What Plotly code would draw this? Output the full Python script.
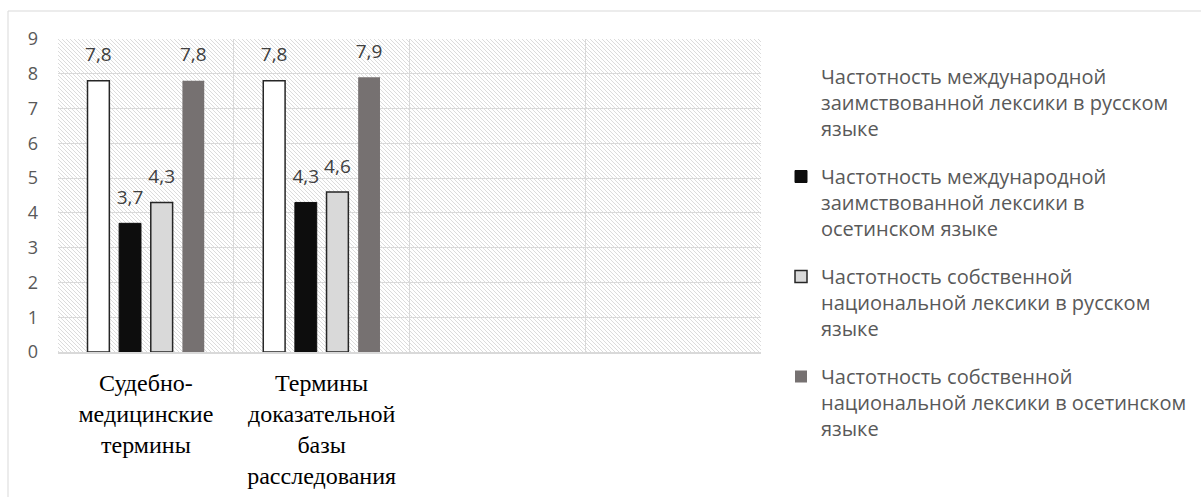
import base64
import plotly.graph_objects as go

# ---- data ----
categories = [
    "Судебно-<br>медицинские<br>термины",
    "Термины<br>доказательной<br>базы<br>расследования",
    " ",
    "  ",
]
series_names = [
    "Частотность международной<br>заимствованной лексики в русском<br>языке",
    "Частотность международной<br>заимствованной лексики в<br>осетинском языке",
    "Частотность собственной<br>национальной лексики в русском<br>языке",
    "Частотность собственной<br>национальной лексики в осетинском<br>языке",
]
intl_ru = [7.8, 7.8, None, None]
intl_os = [3.7, 4.3, None, None]
own_ru = [4.3, 4.6, None, None]
own_os = [7.8, 7.9, None, None]
series_values = [intl_ru, intl_os, own_ru, own_os]
y_ticks = [0, 1, 2, 3, 4, 5, 6, 7, 8, 9]

# ---- styles ----
fills = ["#ffffff", "#0d0d0d", "#d9d9d9", "#767171"]
outlines = ["#262626", "#0d0d0d", "#262626", "#767171"]
outline_w = [1.5, 1, 1.5, 0]
GRID = "#d9d9d9"
BARGAP = 0.28

fig = go.Figure()

# legend-only entry for first series (reference shows no swatch for it)
fig.add_trace(go.Scatter(
    x=[None], y=[None], mode="markers", name=series_names[0],
    marker=dict(color="rgba(255,255,255,0)", symbol="square", size=12),
    offsetgroup="g0", legendgroup="l0", hoverinfo="skip",
))

for i, (name, vals) in enumerate(zip(series_names, series_values)):
    fig.add_trace(go.Bar(
        x=categories, y=vals, name=name,
        marker=dict(color=fills[i], line=dict(color=outlines[i], width=outline_w[i])),
        offsetgroup=f"g{i}", legendgroup=f"l{i}",
        showlegend=(i != 0),
    ))

# value labels
for i, vals in enumerate(series_values):
    fig.add_trace(go.Scatter(
        x=categories, y=vals, mode="markers+text",
        texttemplate="%{y:.1f}", textposition="top center",
        textfont=dict(family="Open Sans", size=19, color="#404040"),
        marker=dict(size=22, opacity=0),
        offsetgroup=f"g{i}", showlegend=False, hoverinfo="skip",
        cliponaxis=False,
    ))

# hatched plot background
svg = (
    "<svg xmlns='http://www.w3.org/2000/svg' width='703' height='313' "
    "viewBox='0 0 703 313' preserveAspectRatio='none'>"
    "<defs><pattern id='h' width='4' height='4' patternUnits='userSpaceOnUse'>"
    "<path d='M-1,-1 L5,5 M-1,3 L1,5 M3,-1 L5,1' stroke='#dcdcdc' stroke-width='1'/>"
    "</pattern></defs><rect width='703' height='313' fill='url(#h)'/></svg>"
)
src = "data:image/svg+xml;base64," + base64.b64encode(svg.encode()).decode()

fig.update_layout(
    width=1201, height=497,
    margin=dict(l=58, r=440, t=39, b=145, autoexpand=False),
    paper_bgcolor="white", plot_bgcolor="rgba(0,0,0,0)",
    barmode="group", bargap=BARGAP, bargroupgap=0.31,
    scattermode="group", scattergap=BARGAP,
    separators=", ",
    showlegend=True,
    legend=dict(
        xref="container", yref="container",
        x=781 / 1201, y=1 - 57 / 497, xanchor="left", yanchor="top",
        font=dict(family="Open Sans", size=20, color="#595959"),
        tracegroupgap=19, itemwidth=30, maxheight=480, valign="top",
        bgcolor="rgba(0,0,0,0)",
    ),
    images=[dict(source=src, xref="paper", yref="paper", x=0, y=1,
                 sizex=1, sizey=1, xanchor="left", yanchor="top",
                 sizing="stretch", layer="below")],
    shapes=[dict(type="rect", xref="paper", yref="paper",
                 x0=(8 - 58) / 703, x1=2, y0=-1, y1=(352 - 11) / 313,
                 line=dict(color=GRID, width=1), fillcolor="rgba(0,0,0,0)",
                 layer="below")],
)
fig.update_xaxes(
    type="category", categoryorder="array", categoryarray=categories,
    tickson="boundaries", showgrid=True, gridcolor=GRID, gridwidth=1.3,
    showline=True, linecolor=GRID, linewidth=1.5, ticks="", automargin=False,
    tickfont=dict(family="Liberation Serif, DejaVu Serif, serif", size=24, color="#000000"),
    ticklabelstandoff=8,
)
fig.update_yaxes(
    range=[0, 9], tickvals=y_ticks, showgrid=True, gridcolor=GRID, gridwidth=1.3,
    zeroline=False, showline=False, ticks="", automargin=False,
    tickfont=dict(family="Open Sans", size=18, color="#595959"),
    ticklabelstandoff=19,
)

fig.write_html("out.html")
